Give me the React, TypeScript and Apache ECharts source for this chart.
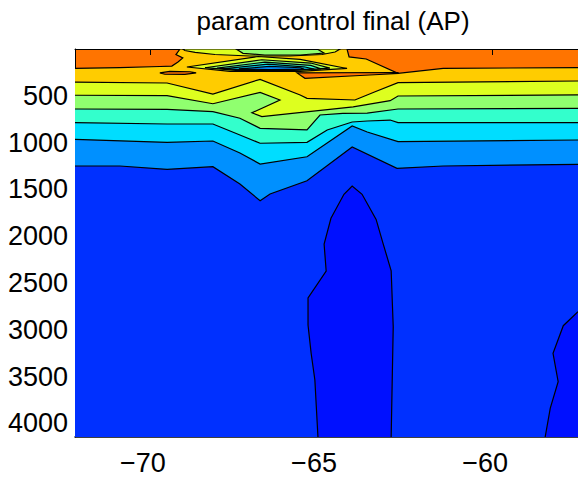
import React, { useEffect, useRef } from 'react';
import * as echarts from 'echarts';

const chartTitle = 'param control final (AP)';
const lonMin = -72.19;
const lonMax = -57.49;
const depthMin = 0;
const depthMax = 4145;
const lonTicks = [-70, -65, -60];
const depthTicks = [500, 1000, 1500, 2000, 2500, 3000, 3500, 4000];

// contour boundaries, [longitude, depth]
const goldTop = [[-72.19, 206], [-70.88, 198], [-69.71, 187], [-69.36, 182], [-69.18, 139], [-69.04, 96], [-69.24, 59], [-69.12, 0], [-64.24, 0], [-64.18, 85], [-63.68, 107], [-62.75, 260], [-61.43, 206], [-57.49, 200]];
const yellowTop = [[-72.19, 353], [-69.5, 363], [-68.16, 481], [-66.78, 324], [-65.61, 491], [-65.41, 527], [-64.01, 545], [-63.42, 456], [-62.75, 360], [-57.49, 342]];
const greenTop = [[-72.19, 494], [-69.5, 499], [-68.16, 585], [-66.78, 463], [-66.2, 545], [-67.02, 681], [-66.73, 723], [-64.06, 619], [-62.98, 552], [-62.75, 502], [-57.49, 491]];
const aquaTop = [[-72.19, 641], [-69.5, 646], [-68.16, 670], [-67.37, 740], [-66.78, 847], [-65.41, 865], [-65.03, 705], [-64.36, 687], [-63.65, 684], [-62.75, 641], [-57.49, 634]];
const cyanTop = [[-72.19, 787], [-69.5, 801], [-68.16, 801], [-67.37, 919], [-66.78, 1007], [-65.41, 997], [-64.82, 865], [-64.09, 780], [-63.65, 769], [-62.98, 759], [-62.75, 787], [-57.49, 787]];
const lightBlueTop = [[-72.19, 965], [-69.5, 997], [-68.16, 983], [-67.37, 1111], [-66.78, 1229], [-65.41, 1151], [-64.09, 823], [-63.65, 887], [-62.75, 990], [-57.49, 972]];
const blueTop = [[-72.19, 1250], [-70.88, 1250], [-69.5, 1285], [-68.16, 1257], [-67.37, 1442], [-66.78, 1621], [-66.49, 1549], [-65.41, 1407], [-64.09, 1047], [-62.78, 1275], [-61.43, 1250], [-57.49, 1232]];
const deepCore = [[-65.09, 4145], [-65.18, 3536], [-65.29, 3248], [-65.38, 2949], [-65.38, 2660], [-64.85, 2372], [-64.91, 2083], [-64.71, 1809], [-64.33, 1552], [-64.09, 1464], [-63.8, 1552], [-63.39, 1820], [-63.19, 2073], [-62.95, 2369], [-62.89, 2967], [-62.95, 4145]];
const deepEast = [[-58.45, 4145], [-58.3, 3836], [-58.07, 3554], [-58.22, 3251], [-57.92, 2956], [-57.49, 2807]];
const topYellowCap = [[-69.04, 0], [-64.44, 0], [-64.59, 32], [-64.97, 59], [-65.91, 75], [-67.08, 75], [-68.1, 59], [-68.68, 37], [-68.98, 16]];
const topGreenLens = [[-67.46, 5], [-65.09, 5], [-64.91, 43], [-65.61, 64], [-66.64, 64], [-67.28, 46]];
const coreYellow = [[-68.92, 192], [-66.84, 80], [-65.61, 110], [-64.24, 208], [-65.61, 240], [-67.66, 238]];
const coreGreen = [[-68.39, 200], [-66.73, 115], [-65.3, 150], [-64.74, 205], [-65.9, 230], [-67.5, 228]];
const coreAqua = [[-68.04, 205], [-66.64, 140], [-65.3, 175], [-65.0, 212], [-66.0, 225], [-67.3, 222]];
const coreCyan = [[-67.8, 210], [-66.55, 162], [-65.5, 190], [-65.2, 215], [-66.1, 222], [-67.1, 220]];
const coreBlue = [[-67.4, 213], [-66.5, 185], [-65.6, 200], [-65.5, 215], [-66.5, 220]];
const orangeSliver = [[-65.7, 256], [-62.75, 251], [-62.75, 262], [-63.86, 283], [-65.47, 313]];
const orangeSpot = [[-69.71, 256], [-69.42, 240], [-68.83, 243], [-68.65, 256], [-68.98, 272], [-69.56, 270]];

const palette = {
  orange: '#FF7400',
  gold: '#FFCC00',
  yellow: '#DDFF1F',
  green: '#90FF6F',
  aqua: '#33FFCC',
  cyan: '#00DDFF',
  lightBlue: '#0090FF',
  blue: '#0030FF',
  deep: '#0010FF',
};

type Shape = { pts: number[][]; kind: 'below' | 'closed' | 'edge'; color: string; extra?: number[][] };

const shapes: Shape[] = [
  { pts: goldTop, kind: 'below', color: palette.gold },
  { pts: yellowTop, kind: 'below', color: palette.yellow },
  { pts: greenTop, kind: 'below', color: palette.green },
  { pts: aquaTop, kind: 'below', color: palette.aqua },
  { pts: cyanTop, kind: 'below', color: palette.cyan },
  { pts: lightBlueTop, kind: 'below', color: palette.lightBlue },
  { pts: blueTop, kind: 'below', color: palette.blue },
  { pts: deepCore, kind: 'edge', color: palette.deep },
  { pts: deepEast, kind: 'edge', color: palette.deep, extra: [[lonMax, depthMax]] },
  { pts: topYellowCap, kind: 'closed', color: palette.yellow },
  { pts: topGreenLens, kind: 'closed', color: palette.green },
  { pts: coreYellow, kind: 'closed', color: palette.yellow },
  { pts: coreGreen, kind: 'closed', color: palette.green },
  { pts: coreAqua, kind: 'closed', color: palette.aqua },
  { pts: coreCyan, kind: 'closed', color: palette.cyan },
  { pts: coreBlue, kind: 'closed', color: palette.lightBlue },
  { pts: orangeSliver, kind: 'closed', color: palette.orange },
  { pts: orangeSpot, kind: 'closed', color: palette.orange },
];

const FONT = "'Liberation Sans', Arial, Helvetica, sans-serif";

export default function App() {
  const ref = useRef<HTMLDivElement>(null);
  useEffect(() => {
    if (!ref.current) return;
    const chart = echarts.init(ref.current, undefined, { renderer: 'svg' });
    const fmtLon = (v: number) => (v < 0 ? '\u2212' : '') + String(Math.abs(v));
    const fmtDepth = (v: number) => String(v);
    chart.setOption({
      animation: false,
      backgroundColor: '#fff',
      title: {
        text: chartTitle,
        left: 328,
        top: 3,
        textAlign: 'center',
        textStyle: { fontSize: 26, fontWeight: 'normal', color: '#000', fontFamily: FONT },
      },
      grid: { left: 75, top: 49, right: 0, bottom: 43, show: true, backgroundColor: palette.orange, borderWidth: 0 },
      xAxis: [
        {
          type: 'value', position: 'bottom', min: lonMin, max: lonMax,
          axisLine: { show: true, onZero: false, lineStyle: { color: '#000', width: 1.5 } },
          axisTick: { show: true, inside: true, length: 6, customValues: lonTicks, lineStyle: { color: '#000' } },
          axisLabel: { customValues: lonTicks, formatter: fmtLon, fontSize: 27, color: '#000', fontFamily: FONT, margin: 12, padding: [0, 14, 0, 0] },
          splitLine: { show: false },
        },
        {
          type: 'value', position: 'top', min: lonMin, max: lonMax,
          axisLine: { show: true, onZero: false, lineStyle: { color: '#000', width: 1 } },
          axisTick: { show: true, inside: true, length: 6, customValues: lonTicks, lineStyle: { color: '#000' } },
          axisLabel: { show: false },
          splitLine: { show: false },
        },
      ],
      yAxis: {
        type: 'value', inverse: true, min: depthMin, max: depthMax,
        axisLine: { show: true, onZero: false, lineStyle: { color: '#000', width: 1 } },
        axisTick: { show: true, inside: true, length: 6, customValues: depthTicks, lineStyle: { color: '#000' } },
        axisLabel: { customValues: depthTicks, formatter: fmtDepth, fontSize: 27, color: '#000', fontFamily: FONT, margin: 7 },
        splitLine: { show: false },
      },
      series: [
        {
          type: 'custom',
          coordinateSystem: 'cartesian2d',
          xAxisIndex: 0,
          yAxisIndex: 0,
          clip: true,
          silent: true,
          data: shapes.map((s) => [s.pts[0][0], s.pts[0][1]]),
          renderItem: (params: any, api: any) => {
            const s = shapes[params.dataIndex];
            const pts = s.pts.map((p) => api.coord(p));
            let fillPts = pts;
            if (s.kind === 'below') {
              fillPts = [...pts, api.coord([lonMax, depthMax]), api.coord([lonMin, depthMax])];
            } else if (s.extra) {
              fillPts = [...pts, ...s.extra.map((p) => api.coord(p))];
            }
            return {
              type: 'group',
              children: [
                { type: 'polygon', shape: { points: fillPts }, style: { fill: s.color, stroke: 'none' } },
                {
                  type: s.kind === 'closed' ? 'polygon' : 'polyline',
                  shape: { points: pts },
                  style: { fill: 'none', stroke: '#000', lineWidth: 1.2 },
                },
              ],
            };
          },
        },
      ],
    });
    return () => chart.dispose();
  }, []);
  return <div ref={ref} style={{ position: 'absolute', left: 0, top: 0, width: 578, height: 480, background: '#fff' }} />;
}
